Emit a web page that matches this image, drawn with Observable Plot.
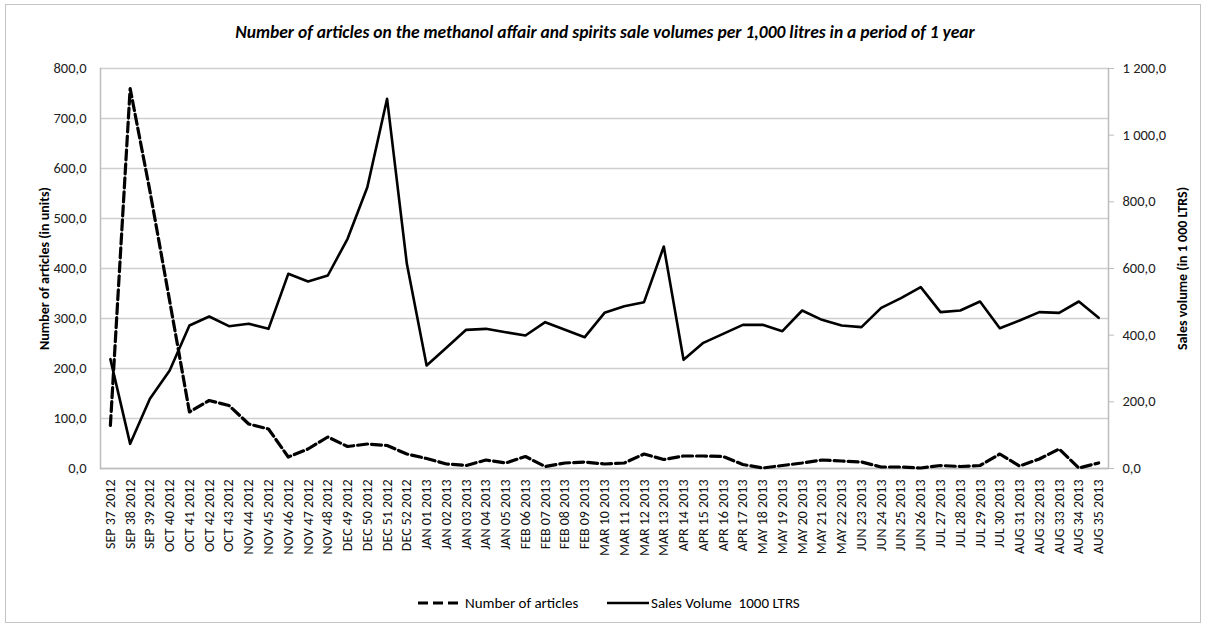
<!DOCTYPE html>
<html><head><meta charset="utf-8">
<script src="https://cdn.jsdelivr.net/npm/d3@7"></script>
<script src="https://cdn.jsdelivr.net/npm/@observablehq/plot@0.6"></script>
<style>
body{margin:0;background:#fff;}
#wrap{position:relative;width:1206px;height:631px;overflow:hidden;font-family:Carlito,Calibri,Lato,sans-serif;color:#000;}
#frame{position:absolute;left:5px;top:4px;width:1196px;height:619px;border:1.5px solid #c4c4c4;box-sizing:border-box;}
#title{position:absolute;top:21px;left:0;width:1210px;text-align:center;font-weight:bold;font-style:italic;font-size:17.5px;line-height:22px;}
#chart{position:absolute;left:0;top:50px;}
#legend{position:absolute;top:593px;left:0;width:1206px;height:20px;font-size:15px;}
#legend .item{position:absolute;top:0;display:flex;align-items:center;height:20px;}
#legend svg{display:block;}
</style>
</head><body>
<div id="wrap">
  <div id="frame"></div>
  <div id="title">Number of articles on the methanol affair and spirits sale volumes per 1,000 litres in a period of 1 year</div>
  <div id="chart"></div>
  <div id="legend">
    <div class="item" style="left:418px"><svg width="41" height="6"><line x1="0" y1="3" x2="41" y2="3" stroke="#000" stroke-width="3.2" stroke-dasharray="10,5"/></svg><span style="margin-left:6px">Number of articles</span></div>
    <div class="item" style="left:607px"><svg width="42" height="6"><line x1="0" y1="3" x2="42" y2="3" stroke="#000" stroke-width="2.6"/></svg><span style="margin-left:2px">Sales Volume&nbsp; 1000 LTRS</span></div>
  </div>
</div>
<script>
const weeks = ["SEP 37 2012","SEP 38 2012","SEP 39 2012","OCT 40 2012","OCT 41 2012","OCT 42 2012","OCT 43 2012","NOV 44 2012","NOV 45 2012","NOV 46 2012","NOV 47 2012","NOV 48 2012","DEC 49 2012","DEC 50 2012","DEC 51 2012","DEC 52 2012","JAN 01 2013","JAN 02 2013","JAN 03 2013","JAN 04 2013","JAN 05 2013","FEB 06 2013","FEB 07 2013","FEB 08 2013","FEB 09 2013","MAR 10 2013","MAR 11 2013","MAR 12 2013","MAR 13 2013","APR 14 2013","APR 15 2013","APR 16 2013","APR 17 2013","MAY 18 2013","MAY 19 2013","MAY 20 2013","MAY 21 2013","MAY 22 2013","JUN 23 2013","JUN 24 2013","JUN 25 2013","JUN 26 2013","JUL 27 2013","JUL 28 2013","JUL 29 2013","JUL 30 2013","AUG 31 2013","AUG 32 2013","AUG 33 2013","AUG 34 2013","AUG 35 2013"];
const articles = [86,760,555,335,113,136,126,89,79,23,39,63,44,49,46,29,20,9,6,17,11,24,4,11,13,9,11,29,18,25,25,24,8,1,6,11,17,15,13,3,3,1,6,4,6,29,5,19,39,1,11];
const sales = [328,74,209,294,429,456,427,434,419,584,561,579,689,844,1109,614,309,362,416,419,409,399,439,416,394,467,487,499,666,326,377,404,431,431,412,474,446,429,424,482,511,544,469,474,501,421,444,469,467,501,452];
const leftTicks = [0,100,200,300,400,500,600,700,800];
const rightTicks = [0,200,400,600,800,1000,1200];
const leftMax = 800, rightMax = 1200;

const ratio = leftMax / rightMax;
const fmt = v => v.toFixed(1).replace(".", ",").replace(/^(\d+)(\d{3}),/, "$1 $2,");
const data = weeks.map((w, i) => ({week: w, articles: articles[i], sales: sales[i]}));

const chart = Plot.plot({
  width: 1206, height: 520,
  marginLeft: 100, marginRight: 98, marginTop: 18, marginBottom: 102,
  style: {fontFamily: "Carlito, Calibri, Lato, sans-serif", fontSize: "14px", color: "#000", background: "transparent", overflow: "visible"},
  x: {type: "point", domain: weeks, padding: 0.5, label: null},
  y: {domain: [0, leftMax], label: null},
  marks: [
    Plot.gridY(leftTicks, {stroke: "#cfcfcf", strokeOpacity: 1, strokeWidth: 1.5}),
    Plot.ruleY([0], {stroke: "#bdbdbd", strokeWidth: 1.5}),
    Plot.frame({anchor: "left", stroke: "#bdbdbd", strokeWidth: 1.5}),
    Plot.frame({anchor: "right", stroke: "#bdbdbd", strokeWidth: 1.5}),
    Plot.axisY(leftTicks, {anchor: "left", tickSize: 0, tickPadding: 14, tickFormat: fmt, label: null, fontSize: 14.5, fill: "#222"}),
    Plot.axisY(rightTicks.map(v => v * ratio), {anchor: "right", tickSize: 5, tickPadding: 9, stroke: "#bdbdbd", tickFormat: d => fmt(d / ratio), label: null, fontSize: 14.5, fill: "#222"}),
    Plot.axisX({anchor: "bottom", tickSize: 0, tickPadding: 11, tickRotate: -90, label: null, fontSize: 14, fill: "#111"}),
    Plot.text(["Number of articles (in units)"], {frameAnchor: "left", textAnchor: "middle", dx: -56, rotate: -90, fontWeight: "bold", fontSize: 14}),
    Plot.text(["Sales volume (in 1 000 LTRS)"], {frameAnchor: "right", textAnchor: "middle", dx: 74, rotate: -90, fontWeight: "bold", fontSize: 14}),
    Plot.line(data, {x: "week", y: d => d.sales * ratio, stroke: "#000", strokeWidth: 2.6}),
    Plot.line(data, {x: "week", y: "articles", stroke: "#000", strokeWidth: 3.2, strokeDasharray: "10,4"})
  ]
});
document.getElementById("chart").appendChild(chart);
</script>
</body></html>
